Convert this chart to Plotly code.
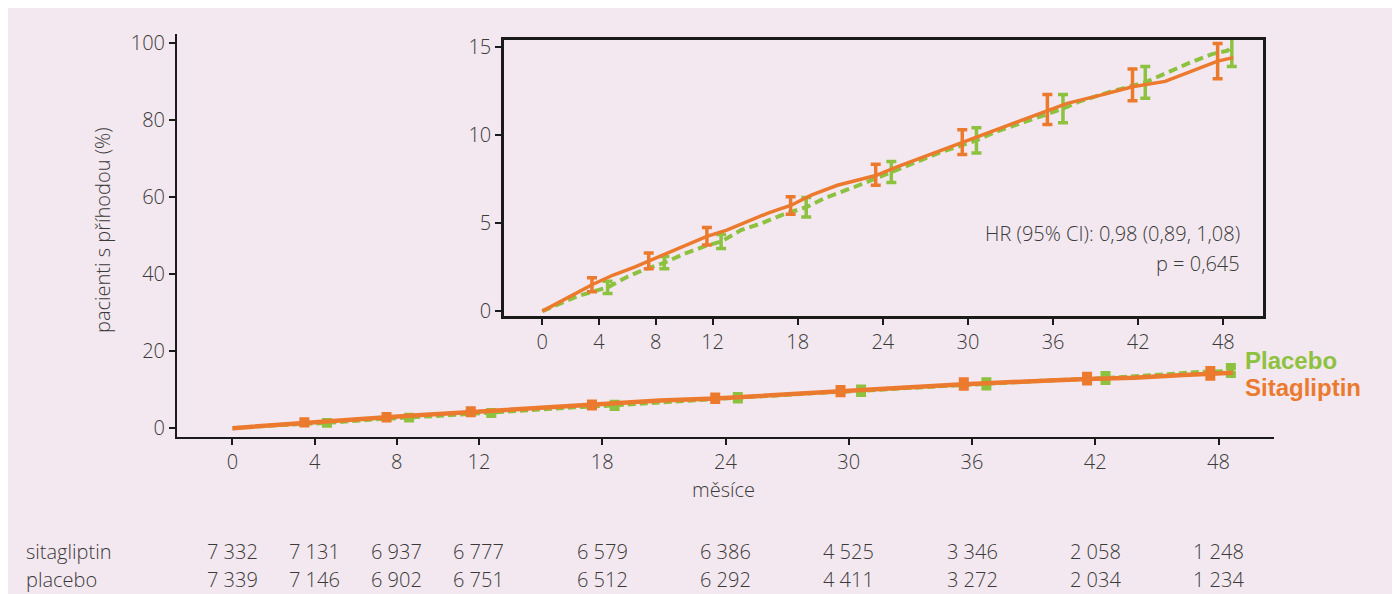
import plotly.graph_objects as go

# ---------------- data ----------------
months_sita = [0, 1, 2, 3.5, 5, 6.5, 7.5, 9, 10.5, 11.6, 13, 14.9, 16, 17.5, 19, 20.8,
               23.5, 25, 27, 29.6, 31, 33, 35.6, 37, 39.5, 41.6, 43.9, 46.3, 47.6, 48.7]
sita = [0, 0.4, 0.85, 1.5, 2.05, 2.5, 2.85, 3.35, 3.85, 4.25, 4.6, 5.2, 5.6, 6.0, 6.6, 7.15,
        7.7, 8.2, 8.8, 9.6, 10.05, 10.6, 11.4, 11.8, 12.3, 12.75, 13.05, 13.8, 14.2, 14.4]

months_plac = [0, 1, 2.5, 4.6, 6, 7, 8.6, 10, 11.5, 12.6, 14, 15.5, 17, 18.6, 20, 22,
               24.6, 26, 28, 30.6, 32, 34, 36.7, 38, 40, 42.5, 43.9, 45.6, 47.2, 48.3, 48.6]
plac = [0, 0.35, 0.85, 1.35, 1.95, 2.3, 2.75, 3.25, 3.7, 3.95, 4.6, 5.0, 5.5, 5.9, 6.45, 7.05,
        7.9, 8.4, 9.0, 9.7, 10.2, 10.75, 11.5, 11.95, 12.45, 13.0, 13.5, 14.1, 14.6, 14.8, 15.1]

eb_months_sita = [3.5, 7.5, 11.6, 17.5, 23.5, 29.6, 35.6, 41.6, 47.6]
eb_sita = [1.5, 2.85, 4.25, 6.0, 7.75, 9.6, 11.45, 12.85, 14.2]
eb_sita_err = [0.4, 0.45, 0.5, 0.5, 0.6, 0.7, 0.85, 0.9, 1.0]

eb_months_plac = [4.6, 8.6, 12.6, 18.6, 24.6, 30.6, 36.7, 42.5, 48.6]
eb_plac = [1.35, 2.75, 3.95, 5.9, 7.9, 9.7, 11.5, 13.0, 14.95]
eb_plac_err = [0.35, 0.35, 0.4, 0.55, 0.6, 0.72, 0.8, 0.9, 1.05]

x_ticks = [0, 4, 8, 12, 18, 24, 30, 36, 42, 48]
y_ticks_main = [0, 20, 40, 60, 80, 100]
y_ticks_inset = [0, 5, 10, 15]

risk_months = [0, 4, 8, 12, 18, 24, 30, 36, 42, 48]
risk_sita = ["7 332", "7 131", "6 937", "6 777", "6 579", "6 386", "4 525", "3 346", "2 058", "1 248"]
risk_plac = ["7 339", "7 146", "6 902", "6 751", "6 512", "6 292", "4 411", "3 272", "2 034", "1 234"]

ORANGE = "#EC7A2E"
GREEN = "#8DC140"
TXT = "#3a3a3a"
FONT = "Open Sans, Noto Sans, sans-serif"
PINK = "#F3E8EF"
FS = 20
FW = 300

fig = go.Figure()

# ---------- main plot ----------
fig.add_trace(go.Scatter(x=months_plac, y=plac, mode="lines", xaxis="x", yaxis="y",
                         line=dict(color=GREEN, width=4, dash="8px,4px"), showlegend=False))
fig.add_trace(go.Scatter(x=eb_months_plac, y=eb_plac, mode="markers", xaxis="x", yaxis="y",
                         marker=dict(size=1, color=GREEN, opacity=0),
                         error_y=dict(type="data", array=eb_plac_err, color=GREEN,
                                      thickness=7, width=5),
                         showlegend=False))
fig.add_trace(go.Scatter(x=months_sita, y=sita, mode="lines", xaxis="x", yaxis="y",
                         line=dict(color=ORANGE, width=4.5), showlegend=False))
fig.add_trace(go.Scatter(x=eb_months_sita, y=eb_sita, mode="markers", xaxis="x", yaxis="y",
                         marker=dict(size=1, color=ORANGE, opacity=0),
                         error_y=dict(type="data", array=eb_sita_err, color=ORANGE,
                                      thickness=7, width=5),
                         showlegend=False))

# ---------- inset ----------
fig.add_trace(go.Scatter(x=months_plac, y=plac, mode="lines", xaxis="x2", yaxis="y2",
                         line=dict(color=GREEN, width=4, dash="9px,5px"), showlegend=False))
fig.add_trace(go.Scatter(x=eb_months_plac, y=eb_plac, mode="markers", xaxis="x2", yaxis="y2",
                         marker=dict(size=1, color=GREEN, opacity=0),
                         error_y=dict(type="data", array=eb_plac_err, color=GREEN,
                                      thickness=3.5, width=5),
                         showlegend=False, cliponaxis=False))
fig.add_trace(go.Scatter(x=months_sita, y=sita, mode="lines", xaxis="x2", yaxis="y2",
                         line=dict(color=ORANGE, width=3.5), showlegend=False))
fig.add_trace(go.Scatter(x=eb_months_sita, y=eb_sita, mode="markers", xaxis="x2", yaxis="y2",
                         marker=dict(size=1, color=ORANGE, opacity=0),
                         error_y=dict(type="data", array=eb_sita_err, color=ORANGE,
                                      thickness=3.5, width=5),
                         showlegend=False, cliponaxis=False))

axis_common = dict(showgrid=False, zeroline=False, showline=True, linecolor="#1a1a1a",
                   ticks="outside", tickcolor="#1a1a1a", ticklen=6, tickwidth=2,
                   tickfont=dict(family=FONT, size=FS, color=TXT, weight=FW))


def txt(text, x, y, xref="paper", yref="paper", xanchor="center", yanchor="middle",
        font=None, **kw):
    return dict(text=text, x=x, y=y, xref=xref, yref=yref, xanchor=xanchor, yanchor=yanchor,
                showarrow=False,
                font=font or dict(family=FONT, size=FS, color=TXT, weight=FW), **kw)


annotations = [
    txt("pacienti s příhodou (%)", -0.0684, 0.5136, textangle=-90),
    txt("měsíce", 0.4985, -0.1315),
    txt("<b>Placebo</b>", 0.9717, 0.191, xanchor="left",
        font=dict(family="Liberation Sans, Arial, sans-serif", size=24, color=GREEN)),
    txt("<b>Sitagliptin</b>", 0.9717, 0.124, xanchor="left",
        font=dict(family="Liberation Sans, Arial, sans-serif", size=24, color=ORANGE)),
    txt("HR (95% CI): 0,98 (0,89, 1,08)", 0.972, 0.30, xref="x2 domain", yref="y2 domain",
        xanchor="right"),
    txt("p = 0,645", 0.972, 0.192, xref="x2 domain", yref="y2 domain", xanchor="right"),
    txt("sitagliptin", -0.1395, -0.2841, xanchor="left"),
    txt("placebo", -0.1395, -0.3548, xanchor="left"),
]
for m, s, p in zip(risk_months, risk_sita, risk_plac):
    annotations.append(txt(s, m, -0.2841, xref="x"))
    annotations.append(txt(p, m, -0.3548, xref="x"))

fig.update_layout(
    width=1392, height=586,
    margin=dict(l=169, r=126, t=26, b=157),
    paper_bgcolor=PINK,
    plot_bgcolor="rgba(0,0,0,0)",
    showlegend=False,
    xaxis=dict(range=[-2.7, 50.7], tickvals=x_ticks, linewidth=2, domain=[0, 1], **axis_common),
    yaxis=dict(range=[-2.3, 102.3], tickvals=y_ticks_main, linewidth=2, domain=[0, 1], **axis_common),
    xaxis2=dict(range=[-2.7, 50.8], tickvals=x_ticks, domain=[0.2981, 0.99], anchor="y2",
                linewidth=2.5, mirror=True, **axis_common),
    yaxis2=dict(range=[-0.28, 15.4], tickvals=y_ticks_inset, domain=[0.3002, 0.985], anchor="x2",
                linewidth=2.5, mirror=True, **axis_common),
    annotations=annotations,
)

fig.write_html("out.html")
